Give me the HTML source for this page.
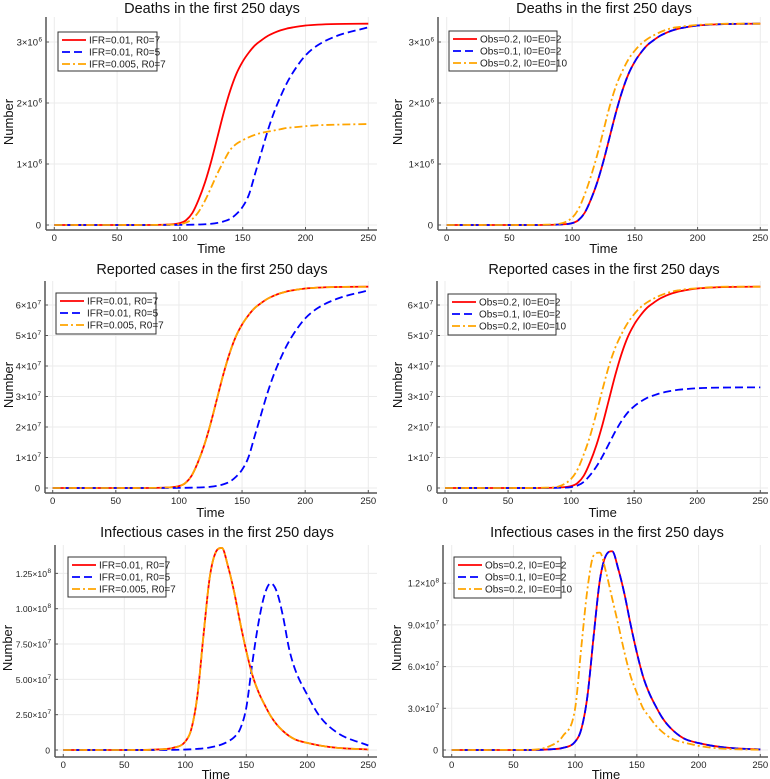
<!DOCTYPE html>
<html><head><meta charset="utf-8"><style>
body{margin:0;background:#fff}
svg{display:block;font-family:"Liberation Sans",sans-serif}
</style></head><body>
<svg id="fig" width="770" height="779" viewBox="0 0 770 779" xmlns="http://www.w3.org/2000/svg"></svg>
<script>
const days = [0,60,80,90,100,105,110,115,120,125,130,135,140,145,150,155,160,165,170,175,180,185,190,200,210,225,250];
// Deaths (units of 1e6)
const deathsRedA    = [0,0,0.002,0.008,0.03,0.08,0.2,0.42,0.7,1.05,1.45,1.85,2.2,2.48,2.68,2.83,2.95,3.03,3.1,3.15,3.19,3.22,3.24,3.27,3.285,3.295,3.3];
const deathsBlueA   = [0,0,0,0,0.002,0.003,0.005,0.008,0.012,0.02,0.035,0.06,0.1,0.18,0.3,0.5,0.85,1.2,1.55,1.85,2.1,2.32,2.5,2.78,2.95,3.1,3.24];
const deathsOrangeA = [0,0,0.001,0.004,0.015,0.04,0.1,0.22,0.4,0.62,0.85,1.05,1.23,1.33,1.39,1.44,1.48,1.51,1.53,1.55,1.57,1.59,1.6,1.62,1.635,1.645,1.655];
const deathsRedB    = [0,0,0.002,0.008,0.03,0.08,0.2,0.42,0.7,1.05,1.45,1.85,2.2,2.48,2.68,2.83,2.95,3.03,3.1,3.15,3.19,3.22,3.24,3.27,3.285,3.295,3.3];
const deathsBlueB   = [0,0,0.002,0.008,0.03,0.08,0.2,0.42,0.7,1.05,1.45,1.85,2.2,2.48,2.68,2.83,2.95,3.03,3.1,3.15,3.19,3.22,3.24,3.27,3.285,3.295,3.3];
const deathsOrangeB = [0,0,0.005,0.02,0.12,0.26,0.5,0.8,1.15,1.55,1.95,2.28,2.52,2.72,2.86,2.97,3.05,3.11,3.16,3.2,3.23,3.245,3.26,3.28,3.29,3.3,3.3];
// Reported cases (units of 1e7)
const repRedA    = [0,0,0.004,0.016,0.06,0.16,0.4,0.84,1.4,2.1,2.9,3.7,4.4,4.96,5.36,5.66,5.9,6.06,6.2,6.3,6.38,6.44,6.48,6.54,6.57,6.59,6.6];
const repBlueA   = [0,0,0,0,0.004,0.006,0.01,0.016,0.024,0.04,0.07,0.12,0.2,0.36,0.6,1.0,1.7,2.4,3.1,3.7,4.2,4.64,5.0,5.56,5.9,6.2,6.48];
const repOrangeA = [0,0,0.004,0.016,0.06,0.16,0.4,0.84,1.4,2.1,2.9,3.7,4.4,4.96,5.36,5.66,5.9,6.06,6.2,6.3,6.38,6.44,6.48,6.54,6.57,6.59,6.6];
const repRedB    = [0,0,0.004,0.016,0.06,0.16,0.4,0.84,1.4,2.1,2.9,3.7,4.4,4.96,5.36,5.66,5.9,6.06,6.2,6.3,6.38,6.44,6.48,6.54,6.57,6.59,6.6];
const repBlueB   = [0,0,0.002,0.008,0.03,0.08,0.2,0.42,0.7,1.05,1.45,1.85,2.2,2.48,2.68,2.83,2.95,3.03,3.1,3.15,3.19,3.22,3.24,3.27,3.285,3.295,3.3];
const repOrangeB = [0,0,0.01,0.05,0.3,0.6,1.1,1.7,2.45,3.25,4.0,4.6,5.05,5.42,5.7,5.92,6.08,6.2,6.3,6.38,6.44,6.48,6.51,6.55,6.58,6.6,6.6];
// Infectious (units of 1e7)
const infRedA    = [0,0,0.05,0.15,0.6,1.5,3.9,8.2,12.2,14.0,14.3,13.0,11.2,9.0,7.0,5.3,4.1,3.2,2.4,1.8,1.35,1.0,0.75,0.5,0.32,0.15,0.04];
const infBlueA   = [0,0,0,0.01,0.03,0.05,0.08,0.12,0.18,0.27,0.4,0.6,0.9,1.5,3.0,6.2,9.0,11.0,11.8,11.2,9.5,7.2,5.7,3.9,2.4,1.2,0.32];
const infOrangeA = [0,0,0.05,0.15,0.6,1.5,3.9,8.2,12.2,14.0,14.3,13.0,11.2,9.0,7.0,5.3,4.1,3.2,2.4,1.8,1.35,1.0,0.75,0.5,0.32,0.15,0.04];
const infRedB    = [0,0,0.05,0.15,0.6,1.5,3.9,8.2,12.2,14.0,14.3,13.0,11.2,9.0,7.0,5.3,4.1,3.2,2.4,1.8,1.35,1.0,0.75,0.5,0.32,0.15,0.04];
const infBlueB   = [0,0,0.05,0.15,0.6,1.5,3.9,8.2,12.2,14.0,14.3,13.0,11.2,9.0,7.0,5.3,4.1,3.2,2.4,1.8,1.35,1.0,0.75,0.5,0.32,0.15,0.04];
const infOrangeB = [0,0.01,0.3,1.0,3.0,7.4,11.6,14.0,14.2,12.8,10.9,9.0,7.0,5.3,4.1,3.0,2.4,1.8,1.35,1.0,0.75,0.6,0.5,0.3,0.17,0.07,0.02];

const xTicks = [0,50,100,150,200,250];
const yTicksDeaths = [0,1,2,3];
const yLabelsDeaths = [["0",""],["1×10","6"],["2×10","6"],["3×10","6"]];
const yTicksRep = [0,1,2,3,4,5,6];
const yLabelsRep = [["0",""],["1×10","7"],["2×10","7"],["3×10","7"],["4×10","7"],["5×10","7"],["6×10","7"]];
const yTicksInfA = [0,2.5,5,7.5,10,12.5];
const yLabelsInfA = [["0",""],["2.50×10","7"],["5.00×10","7"],["7.50×10","7"],["1.00×10","8"],["1.25×10","8"]];
const yTicksInfB = [0,3,6,9,12];
const yLabelsInfB = [["0",""],["3.0×10","7"],["6.0×10","7"],["9.0×10","7"],["1.2×10","8"]];
const legendA = ["IFR=0.01, R0=7","IFR=0.01, R0=5","IFR=0.005, R0=7"];
const legendB = ["Obs=0.2, I0=E0=2","Obs=0.1, I0=E0=2","Obs=0.2, I0=E0=10"];

const NS="http://www.w3.org/2000/svg";
const svg=document.getElementById('fig');
function el(tag,attrs,parent){const e=document.createElementNS(NS,tag);for(const k in attrs)e.setAttribute(k,attrs[k]);(parent||svg).appendChild(e);return e;}
const styles=[{c:"#ff0000",d:""},{c:"#0000ff",d:"8,4"},{c:"#ffa500",d:"8,3,2,3"}];

function monoPath(pts){
  const n=pts.length;const dx=[],m=[],t=[];
  for(let i=0;i<n-1;i++){dx[i]=pts[i+1][0]-pts[i][0];m[i]=(pts[i+1][1]-pts[i][1])/dx[i];}
  t[0]=m[0];t[n-1]=m[n-2];
  for(let i=1;i<n-1;i++){t[i]=(m[i-1]*m[i]<=0)?0:(m[i-1]+m[i])/2;}
  for(let i=0;i<n-1;i++){if(m[i]===0){t[i]=0;t[i+1]=0;continue;}const a=t[i]/m[i],b=t[i+1]/m[i],s=a*a+b*b;if(s>9){const k=3/Math.sqrt(s);t[i]=k*a*m[i];t[i+1]=k*b*m[i];}}
  let d="M"+pts[0][0].toFixed(2)+","+pts[0][1].toFixed(2);
  for(let i=0;i<n-1;i++){const h=dx[i]/3;d+=" C"+(pts[i][0]+h).toFixed(2)+","+(pts[i][1]+t[i]*h).toFixed(2)+" "+(pts[i+1][0]-h).toFixed(2)+","+(pts[i+1][1]-t[i+1]*h).toFixed(2)+" "+pts[i+1][0].toFixed(2)+","+pts[i+1][1].toFixed(2);}
  return d;
}

const panels=[
 {name:"deaths-ifr",title:"Deaths in the first 250 days",tx:212,ty:13,ax:46,top:17,bot:230,right:377,x0:54.3,x1:368.3,y0:225,pu:61,yt:yTicksDeaths,yl:yLabelsDeaths,fs:9.5,series:[deathsRedA,deathsBlueA,deathsOrangeA],leg:legendA,lx:58,ly:32,lw:99,lh:39,nb:13,ny:122,timeY:253},
 {name:"deaths-obs",title:"Deaths in the first 250 days",tx:604,ty:13,ax:438,top:17,bot:230,right:768,x0:446.7,x1:760.3,y0:225,pu:61,yt:yTicksDeaths,yl:yLabelsDeaths,fs:9.5,series:[deathsRedB,deathsBlueB,deathsOrangeB],leg:legendB,lx:449,ly:31,lw:108,lh:40,nb:402,ny:122,timeY:253},
 {name:"reported-ifr",title:"Reported cases in the first 250 days",tx:212,ty:274,ax:45,top:281,bot:493,right:377,x0:52.7,x1:368.3,y0:488,pu:30.5,yt:yTicksRep,yl:yLabelsRep,fs:9.5,series:[repRedA,repBlueA,repOrangeA],leg:legendA,lx:56,ly:293,lw:100,lh:41,nb:13,ny:385,timeY:517},
 {name:"reported-obs",title:"Reported cases in the first 250 days",tx:604,ty:274,ax:437,top:281,bot:493,right:768,x0:445,x1:760.3,y0:488,pu:30.5,yt:yTicksRep,yl:yLabelsRep,fs:9.5,series:[repRedB,repBlueB,repOrangeB],leg:legendB,lx:448,ly:294,lw:108,lh:41,nb:402,ny:385,timeY:517},
 {name:"infectious-ifr",title:"Infectious cases in the first 250 days",tx:217,ty:537,ax:55,top:545,bot:757,right:377,x0:63.3,x1:368.3,y0:750,pu:14.13,yt:yTicksInfA,yl:yLabelsInfA,fs:8.6,series:[infRedA,infBlueA,infOrangeA],leg:legendA,lx:68,ly:557,lw:98,lh:40,nb:12,ny:648,timeY:779},
 {name:"infectious-obs",title:"Infectious cases in the first 250 days",tx:607,ty:537,ax:443,top:545,bot:757,right:768,x0:451.7,x1:760.3,y0:750,pu:13.9,yt:yTicksInfB,yl:yLabelsInfB,fs:8.8,series:[infRedB,infBlueB,infOrangeB],leg:legendB,lx:454,ly:557,lw:107,lh:41,nb:401,ny:648,timeY:779}
];

panels.forEach(p=>{
  const g=el('g',{});
  
  
  const X=d=>p.x0+(p.x1-p.x0)*d/250;
  const Y=v=>p.y0-v*p.pu;
  xTicks.forEach(t=>{const l=el('line',{x1:X(t),x2:X(t),y1:p.top,y2:p.bot,stroke:"#ebebeb","stroke-width":1},g);
    
    });
  p.yt.forEach(t=>{const l=el('line',{x1:p.ax,x2:p.right,y1:Y(t),y2:Y(t),stroke:"#ebebeb","stroke-width":1},g);
    
    });
  const xa=el('line',{x1:p.ax,x2:p.right,y1:p.bot,y2:p.bot,stroke:"#555","stroke-width":1.5},g);
  
  
  const ya=el('line',{x1:p.ax,x2:p.ax,y1:p.top,y2:p.bot,stroke:"#555","stroke-width":1.5},g);
  
  
  xTicks.forEach(t=>{
    el('line',{x1:X(t),x2:X(t),y1:p.bot,y2:p.bot-3,stroke:"#555","stroke-width":1},g);
    const tx=el('text',{x:X(t),y:p.bot+11,"font-size":9.5,"text-anchor":"middle",fill:"#222"},g);
    tx.textContent=t;
    
    
  });
  p.yt.forEach((t,i)=>{
    el('line',{x1:p.ax,x2:p.ax+3,y1:Y(t),y2:Y(t),stroke:"#555","stroke-width":1},g);
    const tx=el('text',{x:p.ax-(p.yl[i][1]?8:5),y:Y(t)+3.5,"font-size":p.fs,"text-anchor":"end",fill:"#222"},g);
    tx.textContent=p.yl[i][0];
    
    
    if(p.yl[i][1]){const s=el('text',{x:p.ax-7.5,y:Y(t)-0.5,"font-size":6.5,fill:"#222"},g);s.textContent=p.yl[i][1];
      
      }
  });
  p.series.forEach((vals,si)=>{
    const pts=days.map((d,i)=>[X(d),Y(vals[i])]);
    const a={d:monoPath(pts),fill:"none",stroke:styles[si].c,"stroke-width":1.8};
    if(styles[si].d)a["stroke-dasharray"]=styles[si].d;
    const path=el('path',a,g);
    
    
  });
  const ti=el('text',{x:p.tx,y:p.ty,"font-size":14.5,"text-anchor":"middle",fill:"#111"},g);
  ti.textContent=p.title;
  
  
  const xl=el('text',{x:(p.x0+p.x1)/2,y:p.timeY,"font-size":13,"text-anchor":"middle",fill:"#111"},g);
  xl.textContent="Time";
  
  
  const yl=el('text',{x:0,y:0,"font-size":13,"text-anchor":"middle",fill:"#111",transform:"translate("+p.nb+","+p.ny+") rotate(-90)"},g);
  yl.textContent="Number";
  
  
  const lg=el('g',{},g);
  
  
  el('rect',{x:p.lx,y:p.ly,width:p.lw,height:p.lh,fill:"#fff",stroke:"#333","stroke-width":1},lg);
  p.leg.forEach((lab,i)=>{
    const yy=p.ly+8+i*12;
    const a={x1:p.lx+4,x2:p.lx+28,y1:yy,y2:yy,stroke:styles[i].c,"stroke-width":1.8};
    if(styles[i].d)a["stroke-dasharray"]=styles[i].d;
    const ln=el('line',a,lg);
    
    
    const t=el('text',{x:p.lx+31,y:yy+3.5,"font-size":10,fill:"#222"},lg);
    t.textContent=lab;
    
    
  });
});
</script>
</body></html>
